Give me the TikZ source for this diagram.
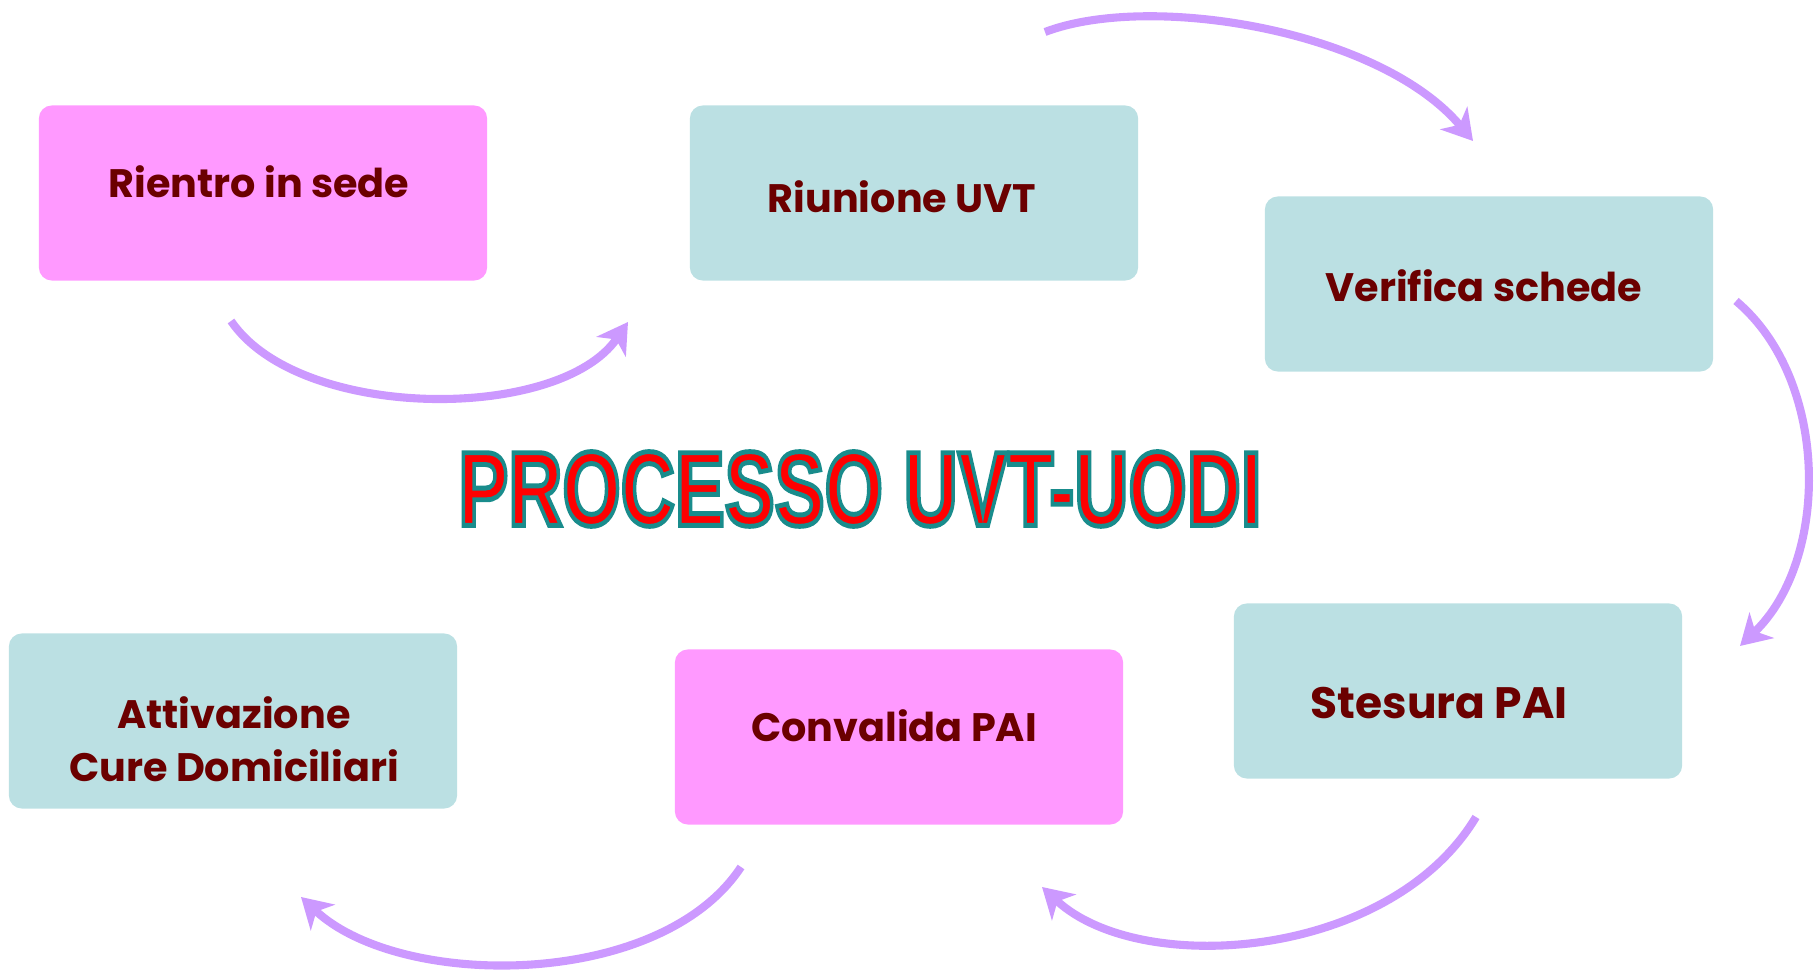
\documentclass[tikz,border=0pt]{standalone}
\usepackage{fontspec}
\setmainfont{Poppins}
\usetikzlibrary{arrows.meta}
\definecolor{PinkBox}{HTML}{FF99FF}
\definecolor{TealBox}{HTML}{BBE0E3}
\definecolor{StepTxt}{HTML}{6B0000}
\definecolor{ArrowClr}{HTML}{CC99FF}
% outlined title letters (fill red, stroke teal)
\newcommand{\outlinedtitle}[1]{{\color{red}\special{pdf:literal direct 0.1 0.55 0.55 RG 1.4 w 2 Tr}#1\special{pdf:literal direct 0 Tr}}}

\begin{document}
\begin{tikzpicture}[x=0.01cm,y=-0.01cm]
\tikzset{
  stepbox/.style={rounded corners=1.3mm,minimum width=4.48cm,minimum height=1.75cm,inner sep=0pt},
  steptxt/.style={text=StepTxt,font=\bfseries\fontsize{11.3}{14}\selectfont,align=center,inner sep=0pt},
  flow/.style={draw=ArrowClr,line width=2.3pt,-{Stealth[length=8.5pt,width=10pt,inset=2.5pt]}}
}
\useasboundingbox (0,0) rectangle (1815,974);

% boxes
\node[stepbox,fill=PinkBox] (rientro) at (263,193) {};
\node[stepbox,fill=TealBox] (riunione) at (914,193) {};
\node[stepbox,fill=TealBox] (verifica) at (1489,284) {};
\node[stepbox,fill=TealBox] (stesura) at (1458,691) {};
\node[stepbox,fill=PinkBox] (convalida) at (899,737) {};
\node[stepbox,fill=TealBox] (attivazione) at (233,721) {};

% labels
\node[steptxt] (rientroT) at (259,182) {Rientro in sede};
\node[steptxt] (riunioneT) at (902,197) {Riunione UVT};
\node[steptxt] (verificaT) at (1484,286) {Verifica schede};
\node[steptxt,font=\bfseries\fontsize{12.5}{15}\selectfont] (stesuraT) at (1439,703) {Stesura PAI};
\node[steptxt] (convalidaT) at (894,726) {Convalida PAI};
\node[steptxt] (attivazioneT) at (234,739) {Attivazione\\[1pt]Cure Domiciliari};

% title
\node (titolo) at (860,489) {\scalebox{0.71}[1]{\fontspec{Liberation Sans}\bfseries\fontsize{30}{32}\selectfont
  \outlinedtitle{PROCESSO UVT-UODI}}};

% arrow ends
\coordinate (a1s) at (231,321);  \coordinate (a1e) at (628,322);
\coordinate (a2s) at (1045,32);  \coordinate (a2e) at (1473,141);
\coordinate (a3s) at (1736,301); \coordinate (a3e) at (1740,646);
\coordinate (a4s) at (1476,817); \coordinate (a4e) at (1042,887);
\coordinate (a5s) at (741,867);  \coordinate (a5e) at (301,897);

\draw[flow] (a1s) .. controls (300,422) and (560,422) .. (a1e);
\draw[flow] (a2s) .. controls (1150,-8) and (1380,30) .. (a2e);
\draw[flow] (a3s) .. controls (1830,380) and (1830,560) .. (a3e);
\draw[flow] (a4s) .. controls (1390,960) and (1140,978) .. (a4e);
\draw[flow] (a5s) .. controls (660,990) and (400,990) .. (a5e);

\end{tikzpicture}
\end{document}
